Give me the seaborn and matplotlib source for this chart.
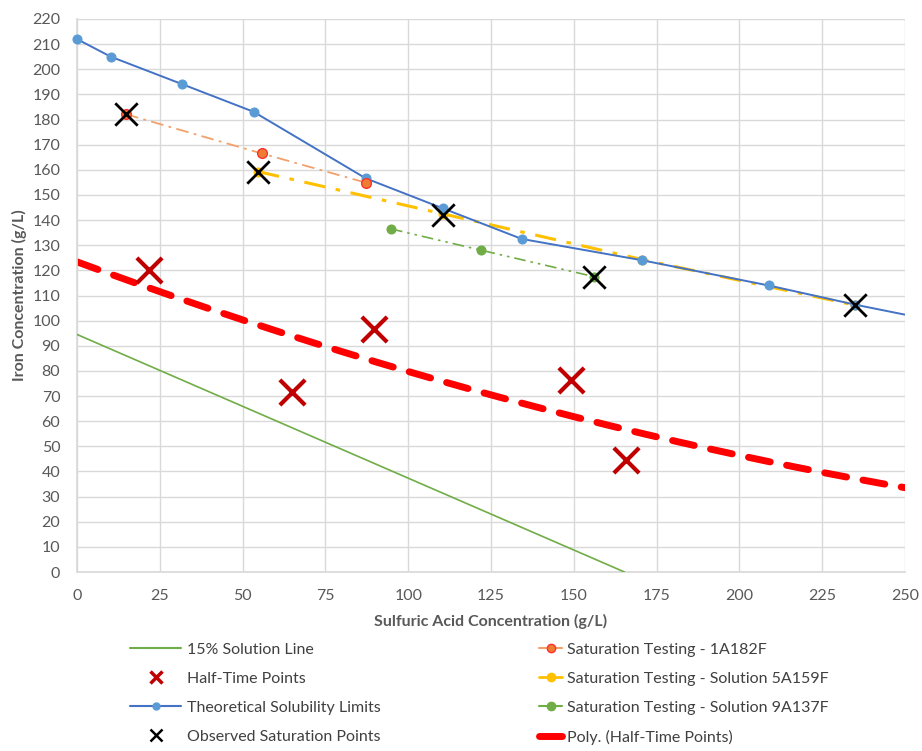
import numpy as np
import pandas as pd
import matplotlib
matplotlib.use("Agg")
import matplotlib.pyplot as plt
import seaborn as sns
from matplotlib.lines import Line2D
from matplotlib.patches import Rectangle

# ---- data ----
sol_x = [0, 165.3]
sol_y = [94.5, 0]

theo_x = [0, 10.2, 31.7, 53.3, 87.2, 110.4, 134.3, 170.7, 208.8, 234.8, 262]
theo_y = [212.0, 205.0, 194.1, 183.1, 156.6, 144.7, 132.5, 124.0, 114.0, 106.4, 99.2]

s1_x = [14.8, 55.8, 87.2]
s1_y = [182.1, 166.5, 154.9]

s5_x = [54.7, 110.4, 170.7, 234.8]
s5_y = [159.3, 142.5, 124.3, 106.2]

s9_x = [94.8, 122.1, 156.1]
s9_y = [136.5, 128.0, 117.5]

obs_x = [14.8, 54.7, 110.4, 156.1, 234.8]
obs_y = [182.2, 159.3, 142.0, 117.5, 106.2]

half_x = [21.7, 64.9, 89.7, 149.1, 165.8]
half_y = [120.2, 71.6, 96.7, 76.4, 44.6]

x_ticks = list(range(0, 251, 25))
y_ticks = list(range(0, 221, 10))

sns.set_theme(style="white")
plt.rcParams['font.family'] = ['Lato', 'DejaVu Sans']

fig = plt.figure(figsize=(9.22, 7.51), dpi=100)
ax = fig.add_axes([77/922, 1-572/751, (905-77)/922, (572-19)/751])

blue_m = "#5B9BD5"
blue_l = "#4472C4"
green = "#70AD47"
orange = "#ED7D31"
yellow = "#FFC000"
darkred = "#C00000"

# poly trendline (order 2) of half-time points
coef = np.polyfit(half_x, half_y, 2)
px = np.linspace(0, 250, 200)
poly_df = pd.DataFrame({"x": px, "y": np.polyval(coef, px)})
sns.lineplot(data=poly_df, x="x", y="y", ax=ax, color="#FF0000", lw=5,
             dashes=False, sort=False, zorder=2)
ax.lines[-1].set_dashes([3.2, 2.4])
ax.lines[-1].set_dash_capstyle("round")

sns.lineplot(x=sol_x, y=sol_y, ax=ax, color=green, lw=1.2, sort=False, zorder=3)

sns.lineplot(x=theo_x, y=theo_y, ax=ax, color=blue_l, lw=1.4, sort=False,
             marker="o", markersize=6.5, markerfacecolor=blue_m,
             markeredgecolor=blue_m, zorder=4)
ax.lines[-1].set_clip_path(Rectangle((-0.02, -0.02), 1.02, 1.05, transform=ax.transAxes))

sns.lineplot(x=s1_x, y=s1_y, ax=ax, color="#F4A06A", lw=1.3, sort=False,
             marker="o", markersize=7, markerfacecolor=orange,
             markeredgecolor="#FF3030", markeredgewidth=1.0, zorder=5)
ax.lines[-1].set_dashes([7, 3, 1.5, 3])

sns.lineplot(x=s5_x, y=s5_y, ax=ax, color=yellow, lw=2.2, sort=False,
             marker="o", markersize=6.5, markerfacecolor=yellow,
             markeredgecolor=yellow, zorder=3.5)
ax.lines[-1].set_dashes([7, 3.5, 1.5, 3.5])

sns.lineplot(x=s9_x, y=s9_y, ax=ax, color=green, lw=1.2, sort=False,
             marker="o", markersize=6.5, markerfacecolor=green,
             markeredgecolor=green, zorder=5)
ax.lines[-1].set_dashes([7, 3, 1.5, 3, 1.5, 3])

sns.scatterplot(x=obs_x, y=obs_y, ax=ax, marker="x", s=260, color="black",
                linewidth=2.0, zorder=6)
sns.scatterplot(x=half_x, y=half_y, ax=ax, marker="x", s=330, color=darkred,
                linewidth=3.0, zorder=6)

ax.set_xlim(0, 250)
ax.set_ylim(0, 220)
ax.set_xticks(x_ticks)
ax.set_yticks(y_ticks)
ax.grid(True, color="#D9D9D9", lw=1.0)
ax.set_axisbelow(True)
for s in ["top", "right"]:
    ax.spines[s].set_visible(False)
ax.spines["left"].set_color("#D9D9D9")
ax.spines["bottom"].set_color("#D9D9D9")
ax.tick_params(axis="both", length=0, labelsize=11.5, labelcolor="#595959", pad=12)
ax.set_xlabel("Sulfuric Acid Concentration (g/L)", fontsize=11.5, fontweight="bold",
              color="#595959", labelpad=8)
ax.set_ylabel("Iron Concentration (g/L)", fontsize=11.5, fontweight="bold",
              color="#595959", labelpad=4)

h_left = [
    Line2D([], [], color=green, lw=1.5),
    Line2D([], [], color=darkred, lw=0, marker="x", markersize=8, mew=2.5),
    Line2D([], [], color=blue_l, lw=1.5, marker="o", markersize=5, markerfacecolor=blue_m, markeredgecolor=blue_m),
    Line2D([], [], color="black", lw=0, marker="x", markersize=8, mew=1.8),
]
l_left = ["15% Solution Line", "Half-Time Points", "Theoretical Solubility Limits",
          "Observed Saturation Points"]
h_right = [
    Line2D([], [], color="#F4A06A", lw=1.5, marker="o", markersize=6, markerfacecolor=orange, markeredgecolor="#FF3030"),
    Line2D([], [], color=yellow, lw=2, marker="o", markersize=6, markerfacecolor=yellow, markeredgecolor=yellow),
    Line2D([], [], color=green, lw=1.5, marker="o", markersize=6, markerfacecolor=green, markeredgecolor=green),
    Line2D([], [], color="#FF0000", lw=5, solid_capstyle="round"),
]
l_right = ["Saturation Testing - 1A182F", "Saturation Testing - Solution 5A159F",
           "Saturation Testing - Solution 9A137F", "Poly. (Half-Time Points)"]

leg1 = fig.legend(h_left, l_left, loc="upper left", bbox_to_anchor=(116/922, 1-628/751),
                  frameon=False, fontsize=11.5, labelcolor="#404040", handlelength=3.2,
                  handletextpad=0.35, labelspacing=0.93)
leg2 = fig.legend(h_right, l_right, loc="upper left", bbox_to_anchor=(525/922, 1-628/751),
                  frameon=False, fontsize=11.5, labelcolor="#404040", handlelength=1.4,
                  handletextpad=0.3, labelspacing=0.93)

fig.savefig("out.png", dpi=100)
